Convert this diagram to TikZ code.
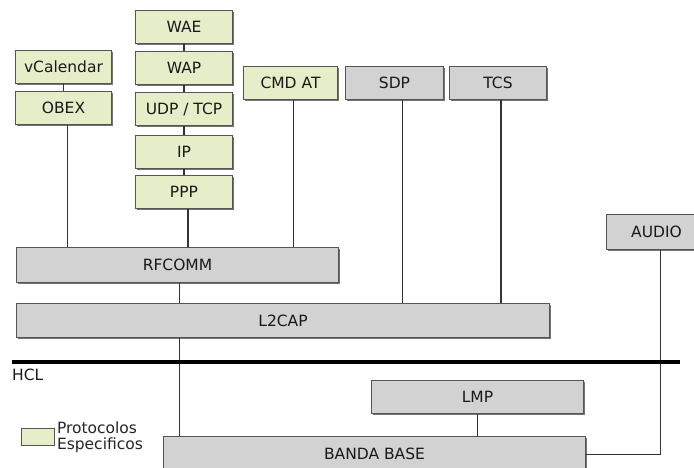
\documentclass[tikz,border=0pt]{standalone}
\usepackage{fontspec}
\setmainfont{DejaVu Sans}
\usetikzlibrary{positioning,shadows}
\definecolor{protgreen}{HTML}{E6EDC9}
\definecolor{protgrey}{HTML}{D2D2D2}
\definecolor{edgegrey}{HTML}{555555}
\definecolor{wiregrey}{HTML}{333333}
\tikzset{
    layer/.style={
        draw=edgegrey,
        line width=1pt,
        anchor=north west,
        inner sep=0pt,
        minimum height=33pt,
        font=\fontsize{15.5}{17}\selectfont,
        text=black!90,
        drop shadow={shadow xshift=1.2pt, shadow yshift=-1.2pt,
            fill=black!55, opacity=1}
    },
    spec/.style={layer, fill=protgreen},
    core/.style={layer, fill=protgrey},
    wire/.style={draw=wiregrey, line width=1.5pt},
    bus/.style={line width=4pt, draw=black}
}

\begin{document}
\begin{tikzpicture}[x=1pt, y=-1pt]
\clip (0,0) rectangle (694,468);
\fill[white] (0,0) rectangle (694,468);

% protocolos especificos
\node[spec, minimum width=97pt] (wae) at (135,10) {WAE};
\node[spec, minimum width=97pt, below=7pt of wae.south west, anchor=north west] (wap) {WAP};
\node[spec, minimum width=97pt, below=7pt of wap.south west, anchor=north west] (udp) {UDP / TCP};
\node[spec, minimum width=97pt, below=9pt of udp.south west, anchor=north west] (ip) {IP};
\node[spec, minimum width=97pt, below=6pt of ip.south west, anchor=north west] (ppp) {PPP};
\node[spec, minimum width=96pt] (vcal) at (15,50) {vCalendar};
\node[spec, minimum width=96pt, below=7pt of vcal.south west, anchor=north west] (obex) {OBEX};
\node[spec, minimum width=94pt] (cmdat) at (243,66) {CMD AT};

% protocolos de base
\node[core, minimum width=98pt] (sdp) at (345,66) {SDP};
\node[core, minimum width=97pt] (tcs) at (449,66) {TCS};
\node[core, minimum width=100pt, minimum height=35pt] (audio) at (606,214) {AUDIO};
\node[core, minimum width=322pt, minimum height=35pt] (rfcomm) at (16,247) {RFCOMM};
\node[core, minimum width=533pt, minimum height=34pt] (l2cap) at (16,303) {L2CAP};
\node[core, minimum width=212pt] (lmp) at (371,380) {LMP};
\node[core, minimum width=422pt, minimum height=34pt] (base) at (163,436) {BANDA BASE};

% interfaz HCL
\coordinate (hclw) at (12,362);
\coordinate (hcle) at (680,362);
\node[anchor=west, inner sep=0pt, font=\fontsize{15.5}{17}\selectfont, text=black!90] (hcl) at (12,375) {HCL};

% leyenda
\node[draw=edgegrey, line width=0.8pt, fill=protgreen, minimum width=33pt,
    minimum height=17pt, inner sep=0pt, anchor=north west] (legbox) at (21,428) {};
\node[right=2pt of legbox, align=left, inner sep=0pt,
    font=\fontsize{15.5}{16}\selectfont, text=black!85] (legtxt) {Protocolos\\Especificos};

% conexiones
\draw[wire] (wae) -- (wap);
\draw[wire] (wap) -- (udp);
\draw[wire] (udp) -- (ip);
\draw[wire] (ip) -- (ppp);
\draw[wire] (vcal) -- (obex);
\draw[wire] ([xshift=4pt]ppp.south) -- ([xshift=4pt]ppp.south |- rfcomm.north);
\draw[wire] ([xshift=4pt]obex.south) -- ([xshift=4pt]obex.south |- rfcomm.north);
\draw[wire] ([xshift=3pt]cmdat.south) -- ([xshift=3pt]cmdat.south |- rfcomm.north);
\draw[wire] ([xshift=8pt]sdp.south) -- ([xshift=8pt]sdp.south |- l2cap.north);
\draw[wire] ([xshift=3pt]tcs.south) -- ([xshift=3pt]tcs.south |- l2cap.north);
\draw[wire] ([xshift=2pt]rfcomm.south) -- ([xshift=2pt]rfcomm.south |- l2cap.north);
\draw[wire] ([xshift=2pt]rfcomm.south |- l2cap.south) -- ([xshift=2pt]rfcomm.south |- base.north);
\draw[wire] (lmp) -- (lmp |- base.north);
\draw[wire] ([xshift=4pt]audio.south) |- ([yshift=-1pt]base.east);
\draw[bus] (hclw) -- (hcle);

\end{tikzpicture}
\end{document}
